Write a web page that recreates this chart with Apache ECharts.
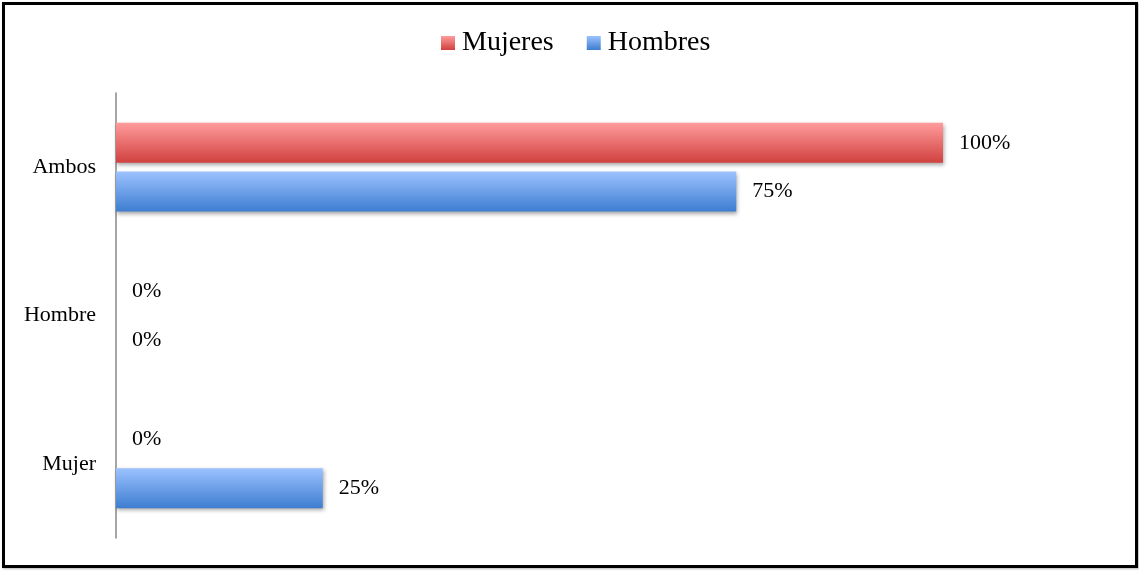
<!DOCTYPE html>
<html><head><meta charset="utf-8">
<script src="https://cdn.jsdelivr.net/npm/echarts@6/dist/echarts.min.js"></script>
<style>
html,body{margin:0;padding:0;background:#fff;}
#frame{position:absolute;left:2px;top:2px;width:1130px;height:560px;border:3px solid #000;box-shadow:1px 1px 2px rgba(0,0,0,0.3);}
#c{position:absolute;left:0;top:0;width:1139px;height:571px;}
</style></head>
<body>
<div id="frame"></div>
<div id="c"></div>
<script>
const categories = ['Mujer', 'Hombre', 'Ambos'];
const seriesNames = ['Mujeres', 'Hombres'];
const mujeres = [0, 0, 100];
const hombres = [25, 0, 75];

const font = '"Liberation Serif", "DejaVu Serif", serif';
function grad(top, bottom) {
  return new echarts.graphic.LinearGradient(0, 0, 0, 1, [
    {offset: 0, color: top}, {offset: 1, color: bottom}
  ]);
}
const redTop = '#FF9C9C', redBot = '#D0413F';
const blueTop = '#9CC2FF', blueBot = '#3D7DD0';

const chart = echarts.init(document.getElementById('c'), null, {renderer: 'canvas'});
const labelCfg = {
  show: true, position: 'right', distance: 16,
  formatter: p => p.value + '%',
  fontFamily: font, fontSize: 22, color: '#000'
};
const itemShadow = {shadowColor: 'rgba(0,0,0,0.35)', shadowBlur: 4, shadowOffsetX: 1, shadowOffsetY: 2};
chart.setOption({
  animation: false,
  textStyle: {fontFamily: font},
  legend: {
    data: seriesNames, top: 24, left: 436,
    itemWidth: 14, itemHeight: 14, itemGap: 33,
    icon: 'rect',
    textStyle: {fontFamily: font, fontSize: 28, color: '#000', padding: [0, 0, 0, 2]}
  },
  grid: {left: 116, right: 196, top: 93, bottom: 33, containLabel: false},
  xAxis: {
    type: 'value', min: 0, max: 100, show: false
  },
  yAxis: {
    type: 'category', data: categories,
    axisLine: {show: true, lineStyle: {color: '#888', width: 1.5}},
    axisTick: {show: false},
    axisLabel: {fontFamily: font, fontSize: 22, color: '#000', margin: 20}
  },
  series: [
    {
      name: seriesNames[0], type: 'bar', data: mujeres,
      barWidth: 40, barGap: '22%',
      itemStyle: Object.assign({color: grad(redTop, redBot)}, itemShadow),
      label: labelCfg
    },
    {
      name: seriesNames[1], type: 'bar', data: hombres,
      barWidth: 40,
      itemStyle: Object.assign({color: grad(blueTop, blueBot)}, itemShadow),
      label: labelCfg
    }
  ]
});
</script>
</body></html>
